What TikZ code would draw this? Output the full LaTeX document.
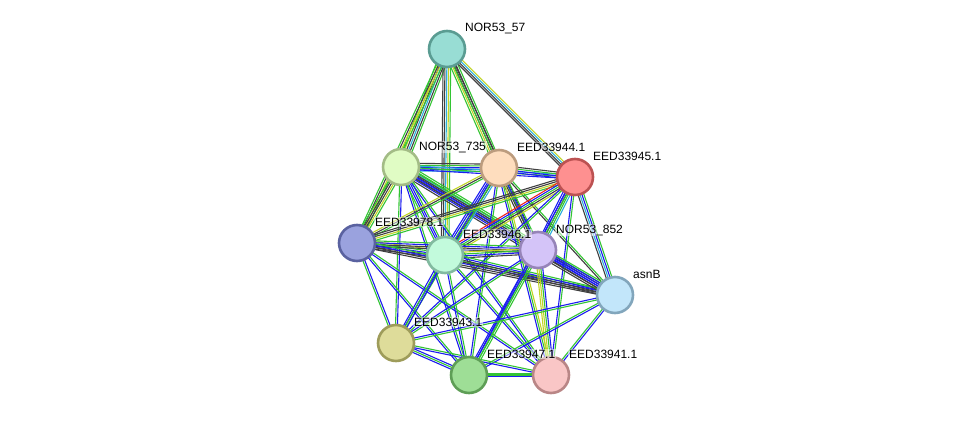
\documentclass[tikz,border=0pt]{standalone}
\usepackage{fontspec}
\setmainfont{Liberation Sans}
\usetikzlibrary{calc}
\pgfdeclarelayer{background}
\pgfsetlayers{background,main}
\definecolor{cg}{HTML}{33C433}
\definecolor{cb}{HTML}{1C1CF0}
\definecolor{ck}{HTML}{404040}
\definecolor{cy}{HTML}{C0D424}
\definecolor{cc}{HTML}{2CB0DA}
\definecolor{cr}{HTML}{EE2222}
\definecolor{cl}{HTML}{A8A0F0}
\tikzset{
  sg/.style={draw=cg}, sb/.style={draw=cb}, sk/.style={draw=ck},
  sy/.style={draw=cy}, sc/.style={draw=cc}, sr/.style={draw=cr}, sl/.style={draw=cl},
  prot/.style={circle, minimum size=36pt, inner sep=0pt, line width=2.6pt},
  lbl/.style={anchor=base west, inner xsep=1pt, inner ysep=1pt, xshift=-1pt, fill=white, fill opacity=0.5, text opacity=1, font=\fontsize{12pt}{14pt}\selectfont, text=black}
}
\newcommand\pedge[3]{%
  \gdef\ncount{0}%
  \foreach \x in {#3}{\xdef\ncount{\the\numexpr\ncount+1\relax}}%
  \foreach \cc [count=\i] in {#3}{%
    \pgfmathsetmacro\off{(\i-(\ncount+1)/2)*1.9}%
    \draw[\cc, line width=1.1pt] ($(#1.center)!\off pt!90:(#2.center)$) -- ($(#2.center)!\off pt!-90:(#1.center)$);
  }}
\begin{document}
\begin{tikzpicture}[x=1pt,y=-1pt]
\useasboundingbox (0,0) rectangle (976,420);
% nodes
\node[prot, fill={rgb,255:red,152;green,221;blue,212}, draw={rgb,255:red,90;green,156;blue,146}] (A) at (447,49) {};
\node[prot, fill={rgb,255:red,224;green,252;blue,196}, draw={rgb,255:red,163;green,188;blue,134}] (B) at (401,167) {};
\node[prot, fill={rgb,255:red,254;green,221;blue,190}, draw={rgb,255:red,188;green,156;blue,126}] (C) at (499,168) {};
\node[prot, fill={rgb,255:red,254;green,144;blue,144}, draw={rgb,255:red,188;green,82;blue,82}] (D) at (575,177) {};
\node[prot, fill={rgb,255:red,154;green,162;blue,222}, draw={rgb,255:red,90;green,98;blue,160}] (E) at (357,243) {};
\node[prot, fill={rgb,255:red,194;green,250;blue,220}, draw={rgb,255:red,130;green,186;blue,160}] (F) at (445,255) {};
\node[prot, fill={rgb,255:red,212;green,196;blue,248}, draw={rgb,255:red,150;green,132;blue,184}] (G) at (538,250) {};
\node[prot, fill={rgb,255:red,194;green,230;blue,250}, draw={rgb,255:red,130;green,166;blue,188}] (H) at (615,295) {};
\node[prot, fill={rgb,255:red,222;green,220;blue,154}, draw={rgb,255:red,158;green,156;blue,90}] (I) at (396,343) {};
\node[prot, fill={rgb,255:red,158;green,222;blue,150}, draw={rgb,255:red,94;green,158;blue,86}] (J) at (469,375) {};
\node[prot, fill={rgb,255:red,249;green,198;blue,198}, draw={rgb,255:red,185;green,134;blue,134}] (K) at (551,375) {};
% edges
\begin{pgfonlayer}{background}
\pedge{A}{B}{sg,sy,sk,sc,sk,sg}
\pedge{A}{E}{sg,sk,sy,sg}
\pedge{A}{F}{sk,sk,sc,sy,sg}
\pedge{A}{C}{sg,sy,sk,sk,sg}
\pedge{A}{D}{sk,sk,sc,sy}
\pedge{A}{G}{sg,sk}
\pedge{B}{C}{sc,sb,sb,sg,sk}
\pedge{B}{D}{sb,sg,sc}
\pedge{B}{E}{sg,sk,sk,sy,sg}
\pedge{B}{F}{sg,sb,sb,sg}
\pedge{B}{G}{sk,sb,sb,sk,sc,sg,sg}
\pedge{B}{H}{sk,sb,sk,sg}
\pedge{B}{I}{sg,sb}
\pedge{B}{J}{sb,sg}
\pedge{B}{K}{sb,sg}
\pedge{C}{D}{sb,sb,sg,sk}
\pedge{C}{E}{sy,sk,sg}
\pedge{C}{F}{sb,sb,sg,sk,sc}
\pedge{C}{G}{sk,sk,sb,sg}
\pedge{C}{H}{sk,sg}
\pedge{C}{I}{sb,sg}
\pedge{C}{J}{sb,sg}
\pedge{C}{K}{sb,sg,sy}
\pedge{D}{E}{sk,sk,sy,sg}
\pedge{D}{F}{sr,sb,sg,sk,sy}
\pedge{D}{G}{sb,sb,sk,sg,sc}
\pedge{D}{H}{sk,sc,sb,sg}
\pedge{D}{I}{sb,sg}
\pedge{D}{J}{sb,sg}
\pedge{D}{K}{sb,sg}
\pedge{E}{F}{sk,sk,sb,sg,sy}
\pedge{E}{G}{sk,sk,sb,sg}
\pedge{E}{H}{sk,sk,sb,sg}
\pedge{E}{I}{sg,sb}
\pedge{E}{J}{sb,sg}
\pedge{E}{K}{sb,sg}
\pedge{F}{G}{sk,sb,sg,sy,sl}
\pedge{F}{H}{sk,sk,sb,sg}
\pedge{F}{I}{sb,sg,sb}
\pedge{F}{J}{sb,sg}
\pedge{F}{K}{sb,sg}
\pedge{G}{H}{sk,sk,sb,sb,sb,sg}
\pedge{G}{I}{sb,sg}
\pedge{G}{J}{sb,sb,sg,sg}
\pedge{G}{K}{sy,sy,sg,sb}
\pedge{H}{I}{sb,sg}
\pedge{H}{J}{sg,sb}
\pedge{H}{K}{sg,sb}
\pedge{I}{J}{sb,sg,sb}
\pedge{I}{K}{sb,sg}
\pedge{J}{K}{sb,sg,sg}
\end{pgfonlayer}
% labels
\node[lbl] (lA) at ($(A)+(18,-17)$) {NOR53\_57};
\node[lbl] (lB) at ($(B)+(18,-17)$) {NOR53\_735};
\node[lbl] (lC) at ($(C)+(18,-17)$) {EED33944.1};
\node[lbl] (lD) at ($(D)+(18,-17)$) {EED33945.1};
\node[lbl] (lE) at ($(E)+(18,-17)$) {EED33978.1};
\node[lbl] (lF) at ($(F)+(18,-17)$) {EED33946.1};
\node[lbl] (lG) at ($(G)+(18,-17)$) {NOR53\_852};
\node[lbl] (lH) at ($(H)+(18,-17)$) {asnB};
\node[lbl] (lI) at ($(I)+(18,-17)$) {EED33943.1};
\node[lbl] (lJ) at ($(J)+(18,-17)$) {EED33947.1};
\node[lbl] (lK) at ($(K)+(18,-17)$) {EED33941.1};
\end{tikzpicture}
\end{document}
